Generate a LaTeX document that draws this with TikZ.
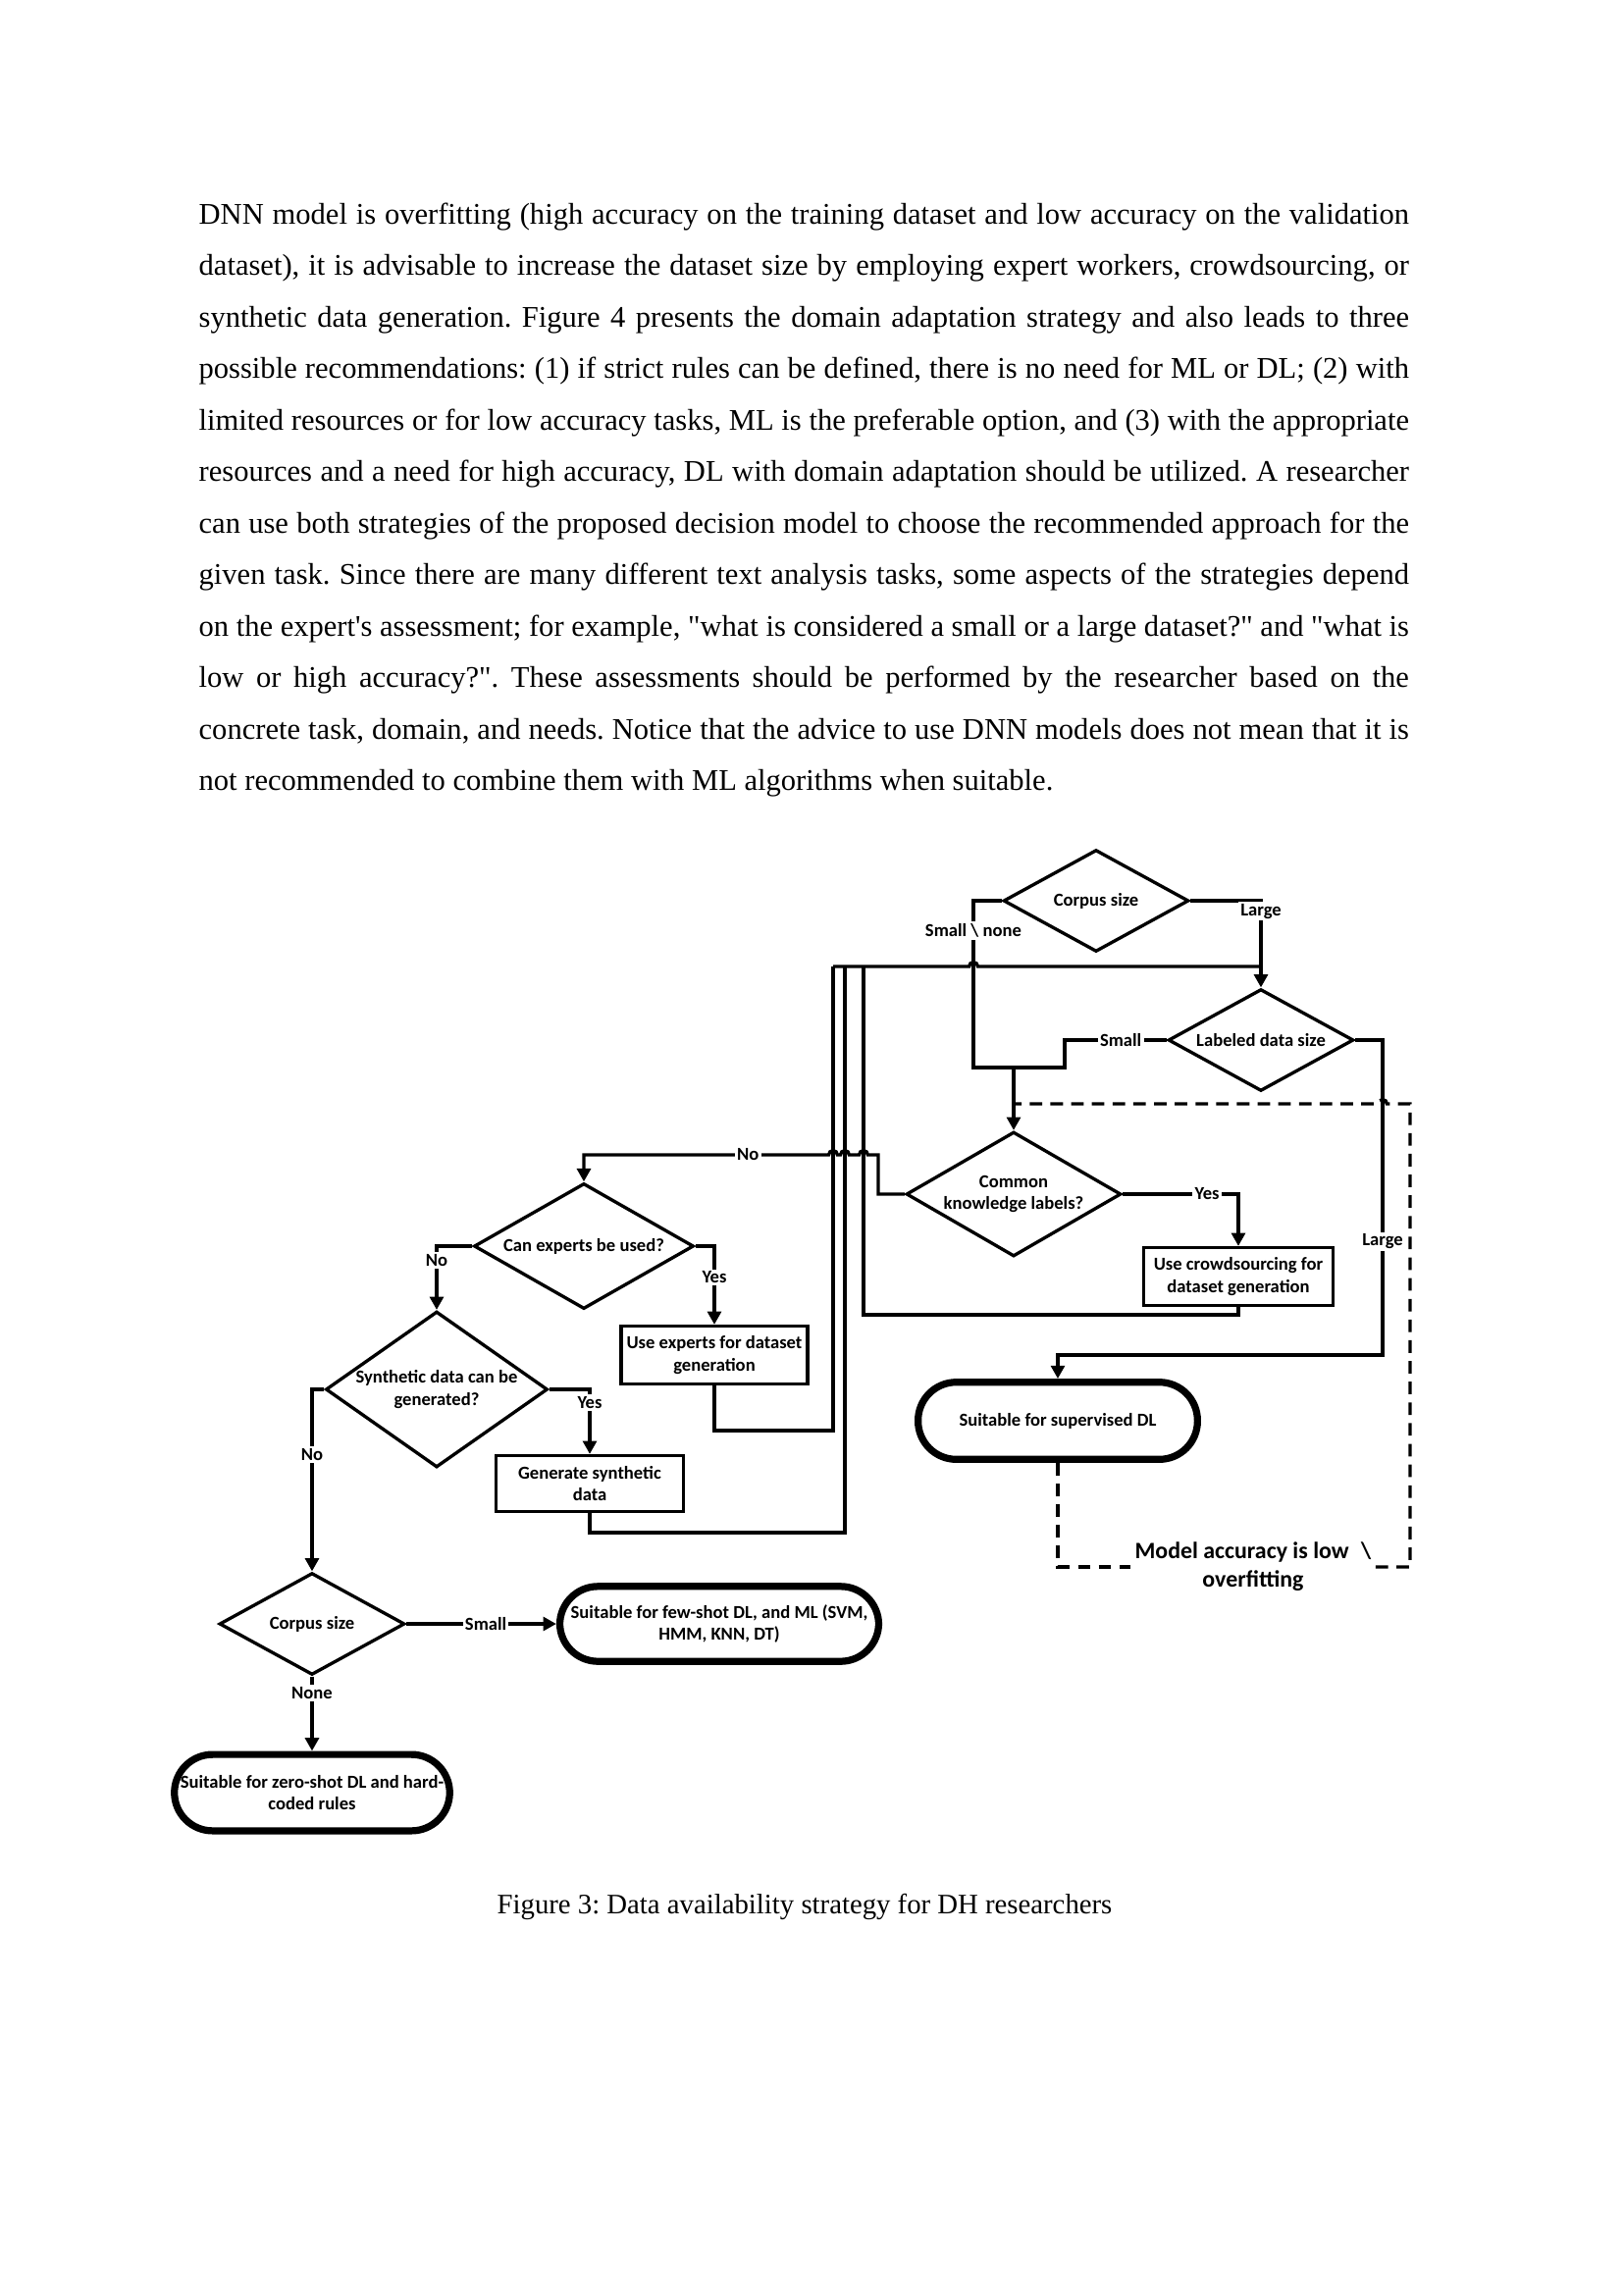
\documentclass[tikz,border=0pt]{standalone}
\usepackage{fontspec}
\setmainfont{Liberation Serif}
\newfontfamily\calibri{Carlito}
\usetikzlibrary{shapes.geometric,arrows.meta}
\tikzset{
  dec/.style={diamond,draw,inner sep=0pt},
  box/.style={rectangle,draw,align=center,inner sep=1pt},
  term/.style={rectangle,draw,line width=2.6pt,rounded corners=14pt,align=center,inner sep=0pt},
  lbl/.style={fill=white,inner sep=0.8pt},
  arr/.style={-{Triangle[length=4.8pt,width=5pt]}},
  dsh/.style={dash pattern=on 4.6pt off 3pt},
  txt/.style={anchor=base west,inner sep=0pt,font=\fontsize{11}{13}\selectfont},
}
\newcommand\fl[1]{\makebox[444pt][s]{#1}}
\begin{document}
\frenchspacing
\begin{tikzpicture}[x=0.36pt,y=-0.36pt,line width=1.2pt,
  every node/.append style={font=\calibri\bfseries\fontsize{6.7}{8}\selectfont}]
\useasboundingbox (0,0) rectangle (1654,2339);
\node[txt] (p1) at (201,228) {\fl{DNN model is overfitting (high accuracy on the training dataset and low accuracy on the validation}};
\node[txt] (p2) at (201,280.5) {\fl{dataset), it is advisable to increase the dataset size by employing expert workers, crowdsourcing, or}};
\node[txt] (p3) at (201,333) {\fl{synthetic data generation. Figure 4 presents the domain adaptation strategy and also leads to three}};
\node[txt] (p4) at (201,385.5) {\fl{possible recommendations: (1) if strict rules can be defined, there is no need for ML or DL; (2) with}};
\node[txt] (p5) at (201,438) {\fl{limited resources or for low accuracy tasks, ML is the preferable option, and (3) with the appropriate}};
\node[txt] (p6) at (201,490.5) {\fl{resources and a need for high accuracy, DL with domain adaptation should be utilized. A researcher}};
\node[txt] (p7) at (201,543) {\fl{can use both strategies of the proposed decision model to choose the recommended approach for the}};
\node[txt] (p8) at (201,595.5) {\fl{given task. Since there are many different text analysis tasks, some aspects of the strategies depend}};
\node[txt] (p9) at (201,648) {\fl{on the expert\textquotesingle s assessment; for example, \textquotedbl what is considered a small or a large dataset?\textquotedbl{} and \textquotedbl what is}};
\node[txt] (p10) at (201,700.5) {\fl{low or high accuracy?\textquotedbl. These assessments should be performed by the researcher based on the}};
\node[txt] (p11) at (201,753) {\fl{concrete task, domain, and needs. Notice that the advice to use DNN models does not mean that it is}};
\node[txt] (p12) at (201,805.5) {not recommended to combine them with ML algorithms when suitable.};
\node[anchor=base,inner sep=0pt,font=\fontsize{10.35}{12}\selectfont] (cap) at (820,1950) {Figure 3: Data availability strategy for DH researchers};

\node[dec,minimum width=68pt,minimum height=37.4pt,label=center:Corpus size] (cs1) at (1117,918) {};
\node[dec,minimum width=68pt,minimum height=37.4pt,label=center:Labeled data size] (lds) at (1285,1060) {};
\node[dec,minimum width=78.8pt,minimum height=45.7pt,label={[align=center]center:Common\\knowledge labels?}] (ckl) at (1033,1217) {};
\node[box,minimum width=69.5pt,minimum height=21.2pt] (crowd) at (1262,1301) {Use crowdsourcing for\\dataset generation};
\node[dec,minimum width=80.6pt,minimum height=46.1pt,label=center:Can experts be used?] (cex) at (595,1270) {};
\node[box,minimum width=68.4pt,minimum height=21.2pt] (uex) at (728,1381) {Use experts for dataset\\generation};
\node[dec,minimum width=81.4pt,minimum height=57.2pt,label={[align=center]center:Synthetic data can be\\generated?}] (syn) at (445,1416) {};
\node[box,minimum width=68.8pt,minimum height=20.5pt] (gen) at (601,1512) {Generate synthetic\\data};
\node[dec,minimum width=68pt,minimum height=37.4pt,label=center:Corpus size] (cs2) at (318,1655) {};
\node[term,minimum width=117pt,minimum height=27.5pt] (few) at (733,1655) {Suitable for few-shot DL, and ML (SVM,\\HMM, KNN, DT)};
\node[term,minimum width=101pt,minimum height=28pt] (zero) at (318,1827) {Suitable for zero-shot DL and hard-\\coded rules};
\node[term,minimum width=102.5pt,minimum height=28.3pt] (sup) at (1078,1448) {Suitable for supervised DL};
\node[font=\calibri\bfseries\fontsize{8.6}{10.4}\selectfont,fill=white,inner sep=1pt,align=center] (acc) at (1277,1597) {Model accuracy is low\hspace{4.5pt}\textbackslash\\overfitting};

\draw (cs1.west) -- (992,918) -- node[lbl,pos=0.18]{Small \textbackslash\ none} (992,1088) -- (1085,1088) -- (1085,1060) -- node[lbl,pos=0.55]{Small} (lds.west);
\coordinate (mrg) at (1033,1088);
\draw[arr] (mrg) -- (ckl.north);
\draw[arr] (cs1.east) -| node[lbl,pos=0.56]{Large} (lds.north);
\draw (849,985) -- (987.6,985) arc[start angle=180,end angle=0,radius=1.6pt] -- (1285,985);
\draw (uex.south) |- (849,1458) -- (849,985);
\draw (gen.south) |- (861,1562) -- (861,985);
\draw (crowd.south) |- (880,1340) -- (880,985);
\draw[arr] (ckl.east) -| node[lbl,pos=0.365]{Yes} (crowd.north);
\draw[arr] (ckl.west) -- (895,1217) -- (895,1177) -- (884.4,1177) arc[start angle=0,end angle=180,radius=1.6pt]
  -- (865.4,1177) arc[start angle=0,end angle=180,radius=1.6pt]
  -- (853.4,1177) arc[start angle=0,end angle=180,radius=1.6pt]
  -- node[lbl,pos=0.33]{No} (595,1177) -- (cex.north);
\draw[arr] (lds.east) -| node[lbl,pos=0.82]{Large} (1409,1381) -| (sup.north);
\draw[arr] (cex.west) -| node[lbl,pos=0.61]{No} (syn.north);
\draw[arr] (cex.east) -| node[lbl,pos=0.7]{Yes} (uex.north);
\draw[arr] (syn.west) -| node[lbl,pos=0.68]{No} (cs2.north);
\draw[arr] (syn.east) -| node[lbl,pos=0.6]{Yes} (gen.north);
\draw[arr] (cs2.east) -- node[lbl,pos=0.53]{Small} (few.west);
\draw[arr] (cs2.south) -- node[lbl,pos=0.22]{None} (zero.north);
\coordinate (fb) at (1035,1125);
\draw[dsh] (sup.south) |- (acc.west);
\draw[dsh] (acc.east) -| (1437,1125) -- (1413.4,1125) arc[start angle=0,end angle=180,radius=1.6pt] -- (fb);
\end{tikzpicture}
\end{document}
